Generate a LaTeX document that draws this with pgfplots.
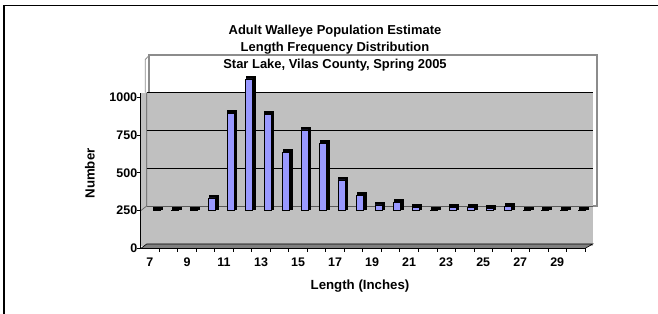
\documentclass[border=0pt]{standalone}
\usepackage{fontspec}
\setmainfont{Liberation Sans}
\usepackage{pgfplots}
\usepackage{pgfplotstable}
\pgfplotsset{compat=1.18}
\definecolor{barblue}{HTML}{9999FF}
\definecolor{wallgray}{HTML}{C0C0C0}
\definecolor{floorgray}{HTML}{808080}
\definecolor{edgegray}{HTML}{8C8C8C}

\pgfplotstableread{
len base count
7 250 1
8 250 1
9 250 1
10 250 85
11 250 643
12 250 871
13 250 635
14 250 387
15 250 534
16 250 446
17 250 204
18 250 99
19 250 38
20 250 56
21 250 21
22 250 4
23 250 21
24 250 21
25 250 17
26 250 26
27 250 1
28 250 1
29 250 1
30 250 1
}\datatable

\pgfplotsset{
  common/.style={
    scale only axis, anchor=south west,
    width=444.3bp, height=155bp,
    xmin=6.5, xmax=30.5, ymin=0, ymax=1025,
    clip=false,
    ybar stacked, bar width=7bp, bar shift=6.5bp,
  }
}

\begin{document}
\begin{tikzpicture}
\useasboundingbox (0,0) rectangle (658bp,314bp);
\begin{scope}[x=1bp,y=-1bp,yshift=314bp]
  % outer chart border (cropped)
  \draw[black,line width=1.3bp] (4,320) -- (4,5.5) -- (662,5.5);
  % back wall box
  \draw[edgegray,line width=1.5bp,fill=white] (149,55) rectangle (597,206);
  % gray plot area
  \fill[wallgray] (140.7,92.7) rectangle (592.7,246);
  % side wall outlines
  \draw[edgegray,line width=0.8bp] (145.3,92.7) -- (145.3,59.5) -- (149.5,55);
  \draw[black!65,line width=0.6bp] (146.7,92.7) -- (146.7,206) -- (140.7,210.7);
  \draw[black!65,line width=0.6bp] (146.7,206) -- (592.7,206);
  % gridlines on back wall
  \foreach \yy in {92.7,130.5,168.3}
    \draw[black,line width=0.9bp] (146.7,\yy) -- (592.7,\yy);
  % floor
  \filldraw[fill=floorgray,draw=black,line width=0.6bp]
    (140.7,248.5) -- (585,248.5) -- (592.7,244) -- (146.7,244) -- cycle;
  % titles
  \node[font=\bfseries\fontsize{13}{17}\selectfont,align=center] at (335,48)
    {Adult Walleye Population Estimate\\Length Frequency Distribution\\Star Lake, Vilas County, Spring 2005};
  \node[rotate=90,font=\bfseries\fontsize{13.3}{14}\selectfont] at (90,173.5) {Number};
  \node[font=\bfseries\fontsize{13.3}{14}\selectfont] at (360,286) {Length (Inches)};
\end{scope}

% shadow (3-D side/top) of the bars
\begin{axis}[common, at={(142.5bp,67.3bp)}, hide axis]
  \addplot[draw=none,fill=none] table[x=len,y=base]{\datatable};
  \addplot[fill=black,draw=black,line width=3bp,line join=miter] table[x=len,y=count]{\datatable};
\end{axis}

% front faces, axes, ticks
\begin{axis}[common, at={(140.7bp,65.5bp)},
  axis x line*=bottom, axis y line*=left,
  axis line style={black,line width=0.8bp,-},
  /pgf/number format/assume math mode=true,
  tick align=outside, major tick length=3.5bp,
  tick style={black,line width=0.8bp},
  ytick={0,250,500,750,1000},
  yticklabels={0,250,500,750,1000},
  xtick={7.5,8.5,...,30.5}, xticklabels={},
  extra x ticks={7,9,...,29},
  extra x tick labels={7,9,11,13,15,17,19,21,23,25,27,29},
  extra x tick style={major tick length=0pt},
  ticklabel style={font=\bfseries\fontsize{12.5}{14}\selectfont},
  xticklabel style={yshift=-5.5bp},
  yticklabel style={xshift=3.5bp},
]
  \addplot[draw=none,fill=none] table[x=len,y=base]{\datatable};
  \addplot[fill=barblue,draw=black,line width=0.6bp] table[x=len,y=count]{\datatable};
\end{axis}
\end{tikzpicture}
\end{document}
